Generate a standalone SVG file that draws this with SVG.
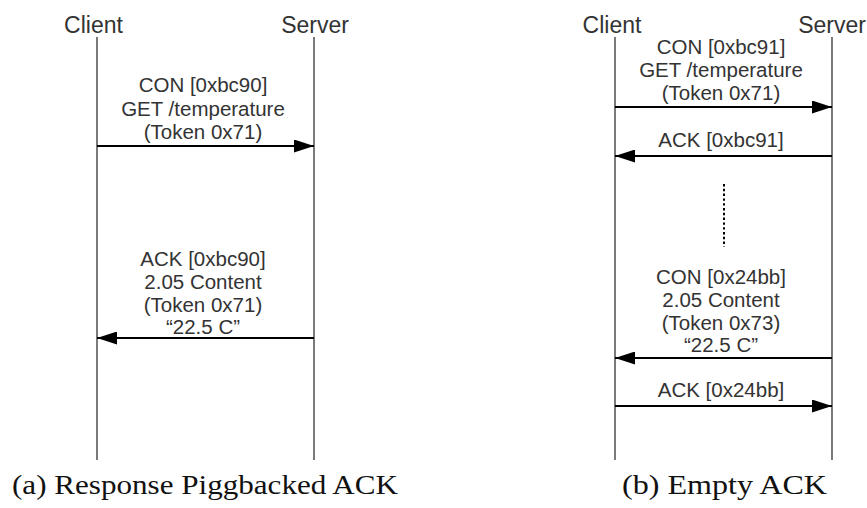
<svg xmlns="http://www.w3.org/2000/svg" width="867" height="508" viewBox="0 0 867 508">
  <style>
    .head { font-family: "Liberation Sans", Arial, sans-serif; font-size: 23px; fill: #333; text-anchor: middle; }
    .lbl { font-family: "Liberation Sans", Arial, sans-serif; font-size: 20.5px; fill: #333; text-anchor: middle; }
    .cap { font-family: "Liberation Serif", "Times New Roman", serif; font-size: 28px; fill: #111; }
    .life { stroke: #222; stroke-width: 1.2; fill: none; }
    .msg { stroke: #000; stroke-width: 2; fill: none; marker-end: url(#head); }
    .dots { stroke: #000; stroke-width: 2; stroke-dasharray: 2.4 2.4; fill: none; }
  </style>
  <defs>
    <marker id="head" viewBox="0 0 20 13" refX="20" refY="6.5" markerWidth="20" markerHeight="13" markerUnits="userSpaceOnUse" orient="auto">
      <path d="M0,0 L20,6.5 L0,13 z" fill="#000"/>
    </marker>
  </defs>

  <!-- (a) piggybacked response -->
  <g id="a-client">
    <text class="head" x="93.5" y="33">Client</text>
    <line class="life" x1="97" y1="37" x2="97" y2="460"/>
  </g>
  <g id="a-server">
    <text class="head" x="315" y="33">Server</text>
    <line class="life" x1="314" y1="37" x2="314" y2="460"/>
  </g>

  <!-- (b) separate empty ACK -->
  <g id="b-client">
    <text class="head" x="612" y="33">Client</text>
    <line class="life" x1="615" y1="37" x2="615" y2="460"/>
  </g>
  <g id="b-server">
    <text class="head" x="832" y="33">Server</text>
    <line class="life" x1="832" y1="37" x2="832" y2="460"/>
  </g>

  <g id="connectors">
    <line class="msg" x1="97" y1="146" x2="314" y2="146"/>
    <line class="msg" x1="314" y1="338" x2="97" y2="338"/>
    <line class="msg" x1="615" y1="107" x2="832" y2="107"/>
    <line class="msg" x1="832" y1="156" x2="615" y2="156"/>
    <line class="dots" x1="724" y1="184" x2="724" y2="247"/>
    <line class="msg" x1="832" y1="358" x2="615" y2="358"/>
    <line class="msg" x1="615" y1="406" x2="832" y2="406"/>
  </g>

  <g id="labels">
    <text class="lbl" x="203" y="92">CON [0xbc90]</text>
    <text class="lbl" x="203" y="115.5">GET /temperature</text>
    <text class="lbl" x="203" y="139">(Token 0x71)</text>

    <text class="lbl" x="203" y="266">ACK [0xbc90]</text>
    <text class="lbl" x="203" y="289">2.05 Content</text>
    <text class="lbl" x="203" y="312">(Token 0x71)</text>
    <text class="lbl" x="203" y="334">“22.5 C”</text>

    <text class="lbl" x="721" y="54">CON [0xbc91]</text>
    <text class="lbl" x="721" y="77">GET /temperature</text>
    <text class="lbl" x="721" y="100">(Token 0x71)</text>

    <text class="lbl" x="721" y="147">ACK [0xbc91]</text>

    <text class="lbl" x="721" y="284">CON [0x24bb]</text>
    <text class="lbl" x="721" y="307">2.05 Content</text>
    <text class="lbl" x="721" y="330">(Token 0x73)</text>
    <text class="lbl" x="721" y="352">“22.5 C”</text>

    <text class="lbl" x="721" y="397">ACK [0x24bb]</text>
  </g>

  <g id="captions">
    <text class="cap" x="12" y="494" textLength="386" lengthAdjust="spacingAndGlyphs">(a) Response Piggbacked ACK</text>
    <text class="cap" x="622" y="494" textLength="205" lengthAdjust="spacingAndGlyphs">(b) Empty ACK</text>
  </g>
</svg>
